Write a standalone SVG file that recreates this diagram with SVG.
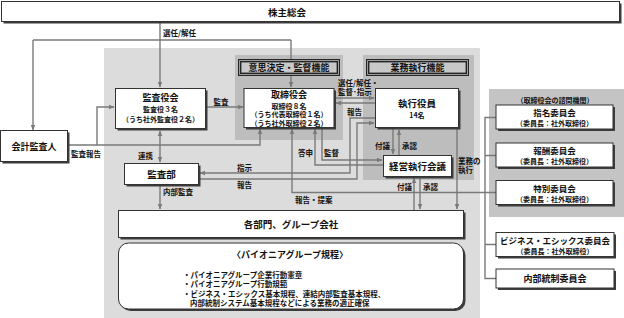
<svg xmlns="http://www.w3.org/2000/svg" width="624" height="318" viewBox="0 0 624 318">
<defs>
<marker id="ah" viewBox="0 0 10 10" refX="9" refY="5" markerWidth="6" markerHeight="6" markerUnits="userSpaceOnUse" orient="auto-start-reverse">
<path d="M0,1 L10,5 L0,9 z" fill="#7a7a7a"/>
</marker>
</defs>
<style>
text{font-family:"Noto Sans CJK JP","Noto Sans CJK SC",sans-serif;font-weight:bold;fill:#111;dominant-baseline:central;}
.c{text-anchor:middle;}
.t{font-size:9.5px;}
.s{font-size:7px;}
.l{font-size:7.5px;}
.box{fill:#fff;stroke:#333;stroke-width:1;}
.sh{fill:#3c3c3c;}
.ln{fill:none;stroke:#7a7a7a;stroke-width:1.4;}
.a{marker-end:url(#ah);}
.ab{marker-start:url(#ah);marker-end:url(#ah);}
</style>
<rect width="624" height="318" fill="#fff"/>
<!-- panels -->
<rect x="104" y="48" width="376" height="270" fill="#dcdcdc"/>
<rect x="235" y="55" width="108" height="85" fill="#bdbdbd"/>
<rect x="363" y="55" width="111" height="125" fill="#bdbdbd"/>
<rect x="489" y="89" width="135" height="128" fill="#c4c4c4"/>

<g id="connectors">
<path class="ln a" d="M160,22 V87"/>
<path class="ln" d="M33,40 H291" />
<path class="ln a" d="M33,40 V130"/>
<path class="ln a" d="M291,40 V87"/>
<path class="ln a" d="M206,107 H243"/>
<path class="ln a" d="M68,145 H260 V129"/>
<path class="ln a" d="M97,145 V107 H114"/>
<path class="ln a" d="M335,98 H374"/>
<path class="ln a" d="M375,103 H336"/>
<path class="ln ab" d="M160,131 V162"/>
<path class="ln a" d="M160,186 V209"/>
<path class="ln a" d="M375,118 H350 V173 H200"/>
<path class="ln a" d="M199,179 H357 V123 H374"/>
<path class="ln a" d="M383,165 H315 V129"/>
<path class="ln a" d="M322,129 V160 H382"/>
<path class="ln a" d="M485,192.5 H292 V129"/>
<path class="ln" d="M496,117.5 H485 V278.5 H496 M485,155.5 H496 M485,192.5 H496 M485,244.5 H496"/>
<path class="ln a" d="M393,129 V154"/>
<path class="ln a" d="M399,155 V130"/>
<path class="ln a" d="M414,210 V178"/>
<path class="ln a" d="M420,177 V209"/>
<path class="ln a" d="M457,129 V209"/>
</g>

<g id="label-decision">
<rect x="238" y="59" width="102" height="17" fill="#262626"/>
<rect x="239.6" y="60.6" width="98.8" height="13.8" fill="none" stroke="#bbb" stroke-width="0.8"/>
<rect x="241" y="62" width="96" height="11" fill="#c8c8c8" stroke="#222" stroke-width="0.8"/>
<text class="c" x="289" y="67.5" font-size="9">意思決定・監督機能</text>
</g>
<g id="label-exec">
<rect x="366" y="59" width="103" height="17" fill="#262626"/>
<rect x="367.6" y="60.6" width="99.8" height="13.8" fill="none" stroke="#bbb" stroke-width="0.8"/>
<rect x="369" y="62" width="97" height="11" fill="#c8c8c8" stroke="#222" stroke-width="0.8"/>
<text class="c" x="417.5" y="67.5" font-size="9">業務執行機能</text>
</g>

<g id="shareholders">
<rect class="sh" x="3.5" y="3.5" width="618" height="20"/>
<rect class="box" x="1.5" y="1.5" width="618" height="20"/>
<text class="c t" x="287" y="12">株主総会</text>
</g>
<g id="auditor">
<rect class="sh" x="2.5" y="132.5" width="67" height="31"/>
<rect class="box" x="0.5" y="130.5" width="67" height="31"/>
<text class="c" x="34" y="146" font-size="9">会計監査人</text>
</g>
<g id="kansayakukai">
<rect class="sh" x="117.5" y="90.5" width="90" height="40"/>
<rect class="box" x="115.5" y="88.5" width="90" height="40"/>
<text class="c" x="160.5" y="97" font-size="9">監査役会</text>
<text class="c s" x="160.5" y="108.5">監査役３名</text>
<text class="c s" x="160.5" y="119">（うち社外監査役２名）</text>
</g>
<g id="torishimariyakukai">
<rect class="sh" x="246" y="90.5" width="90" height="39"/>
<rect class="box" x="244" y="88.5" width="90" height="39"/>
<text class="c" x="289" y="94.5" font-size="9">取締役会</text>
<text class="c s" x="289" y="105.5">取締役８名</text>
<text class="c s" x="289" y="114">（うち代表取締役１名）</text>
<text class="c s" x="289" y="122.5">（うち社外取締役２名）</text>
</g>
<g id="shikkoyakuin">
<rect class="sh" x="377.5" y="90.5" width="83" height="39"/>
<rect class="box" x="375.5" y="88.5" width="83" height="39"/>
<text class="c" x="417" y="102.5" font-size="9.5">執行役員</text>
<text class="c" x="417" y="115" font-size="7">14名</text>
</g>
<g id="keiei">
<rect class="sh" x="385.5" y="157.5" width="68" height="21"/>
<rect class="box" x="383.5" y="155.5" width="68" height="21"/>
<text class="c t" x="417.5" y="166">経営執行会議</text>
</g>
<g id="kansabu">
<rect class="sh" x="126.5" y="165.5" width="74" height="21"/>
<rect class="box" x="124.5" y="163.5" width="74" height="21"/>
<text class="c t" x="161.5" y="174">監査部</text>
</g>
<g id="bumon">
<rect class="sh" x="120.5" y="212.5" width="345" height="27"/>
<rect class="box" x="118.5" y="210.5" width="345" height="27"/>
<text class="c t" x="291" y="224">各部門、グループ会社</text>
</g>
<g id="kitei">
<rect class="sh" x="120.5" y="245" width="345" height="66" rx="10"/>
<rect class="box" x="118.5" y="243" width="345" height="66" rx="10"/>
<text class="c" x="290" y="254" font-size="9">〈パイオニアグループ規程〉</text>
<text x="183" y="274" font-size="7.5">・パイオニアグループ企業行動憲章</text>
<text x="183" y="283.5" font-size="7.5">・パイオニアグループ行動規範</text>
<text x="183" y="293" font-size="7.5">・ビジネス・エシックス基本規程、連結内部監査基本規程、</text>
<text x="190" y="302.5" font-size="7.5">内部統制システム基本規程などによる業務の適正確保</text>
</g>

<g id="advisory-label">
<text class="c" x="555" y="99.5" font-size="7">（取締役会の諮問機関）</text>
</g>
<g id="shimei">
<rect class="sh" x="498" y="107" width="117" height="24"/>
<rect class="box" x="496" y="105" width="117" height="24"/>
<text class="c" x="554.5" y="112" font-size="8.5">指名委員会</text>
<text class="c" x="554.5" y="123" font-size="7">（委員長：社外取締役）</text>
</g>
<g id="hoshu">
<rect class="sh" x="498" y="145" width="117" height="24"/>
<rect class="box" x="496" y="143" width="117" height="24"/>
<text class="c" x="554.5" y="150" font-size="8.5">報酬委員会</text>
<text class="c" x="554.5" y="161" font-size="7">（委員長：社外取締役）</text>
</g>
<g id="tokubetsu">
<rect class="sh" x="498" y="182.5" width="117" height="24"/>
<rect class="box" x="496" y="180.5" width="117" height="24"/>
<text class="c" x="554.5" y="187.5" font-size="8.5">特別委員会</text>
<text class="c" x="554.5" y="198.5" font-size="7">（委員長：社外取締役）</text>
</g>
<g id="ethics">
<rect class="sh" x="498" y="234.5" width="118" height="24"/>
<rect class="box" x="496" y="232.5" width="118" height="24"/>
<text class="c" x="555" y="239.5" font-size="8.5">ビジネス・エシックス委員会</text>
<text class="c" x="555" y="250.5" font-size="7">（委員長：社外取締役）</text>
</g>
<g id="naibu">
<rect class="sh" x="498" y="271" width="118" height="19"/>
<rect class="box" x="496" y="269" width="118" height="19"/>
<text class="c" x="555" y="278.5" font-size="9">内部統制委員会</text>
</g>

<g id="labels">
<text class="l" x="163" y="32">選任/解任</text>
<text class="l c" x="221" y="101">監査</text>
<text class="l" x="71" y="153">監査報告</text>
<text class="l" x="138" y="155">連携</text>
<text class="l" x="163" y="191">内部監査</text>
<text class="l" x="237" y="167.5">指示</text>
<text class="l" x="237" y="184.5">報告</text>
<text class="l" x="338" y="82">選任/解任・</text>
<text class="l" x="338" y="91.5">監督･指示</text>
<text class="l" x="347" y="111">報告</text>
<text class="l" x="298" y="152">答申</text>
<text class="l" x="324" y="152">監督</text>
<text class="l" x="295" y="199.5">報告・提案</text>
<text class="l" x="375" y="145">付議</text>
<text class="l" x="402" y="145">承認</text>
<text class="l" x="397" y="186.5">付議</text>
<text class="l" x="423" y="186.5">承認</text>
<text class="l" x="458" y="160">業務の</text>
<text class="l" x="458" y="169.5">執行</text>
</g>
</svg>
